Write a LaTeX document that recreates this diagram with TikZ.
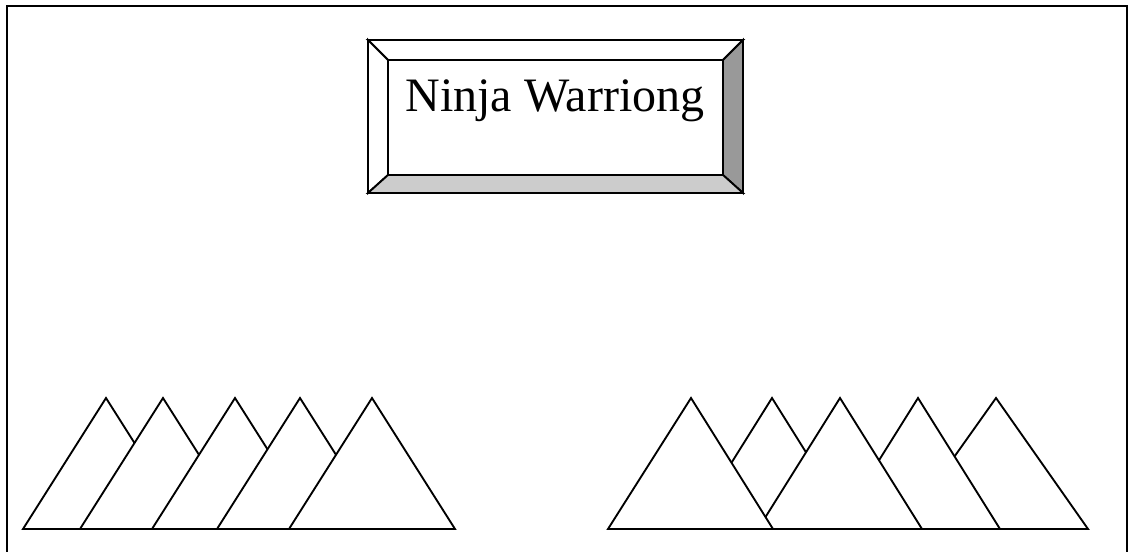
\documentclass[tikz,border=0pt]{standalone}
\usepackage{fontspec}
\setmainfont{Liberation Serif}
\usepackage{xcolor}
\definecolor{bevelside}{HTML}{999999}
\definecolor{bevelbot}{HTML}{CCCCCC}
\usetikzlibrary{positioning}
\tikzset{
  frame/.style={draw=black, line width=1.6pt},
  mtn/.style={draw=black, fill=white, line width=1.4pt, line join=miter},
  bevel/.style={draw=black, line width=1.4pt, line join=miter},
  title/.style={font=\fontsize{36}{40}\selectfont, inner sep=0pt, anchor=base},
}

\begin{document}
\begin{tikzpicture}[x=0.75pt, y=-0.75pt]
  \useasboundingbox (0,0) rectangle (1129,552);
  % outer frame, bottom runs off the page
  \draw[frame] (7,552) -- (7,6) -- (1127,6) -- (1127,552);

  % title button
  \coordinate (o1) at (368,40);  \coordinate (o2) at (743,40);
  \coordinate (o3) at (743,193); \coordinate (o4) at (368,193);
  \coordinate (i1) at (388,60);  \coordinate (i2) at (723,60);
  \coordinate (i3) at (723,175); \coordinate (i4) at (388,175);
  \filldraw[bevel, fill=white] (o1) -- (o2) -- (i2) -- (i1) -- cycle;
  \filldraw[bevel, fill=white] (o1) -- (i1) -- (i4) -- (o4) -- cycle;
  \filldraw[bevel, fill=bevelside] (o2) -- (o3) -- (i3) -- (i2) -- cycle;
  \filldraw[bevel, fill=bevelbot] (o4) -- (i4) -- (i3) -- (o3) -- cycle;
  \draw[bevel] (i1) rectangle (i3);
  \node[title] (name) at (555,112) {Ninja Warriong};

  % left range, drawn back to front
  \foreach \ax in {106,163,235,300,372}
    \draw[mtn] (\ax-83,529) -- (\ax,398) -- (\ax+83,529) -- cycle;

  % right range, drawn back to front
  \draw[mtn] (903,529) -- (996,398) -- (1088,529) -- cycle;
  \draw[mtn] (836,529) -- (918,398) -- (1000,529) -- cycle;
  \draw[mtn] (690,529) -- (772,398) -- (854,529) -- cycle;
  \draw[mtn] (758,529) -- (840,398) -- (922,529) -- cycle;
  \draw[mtn] (608,529) -- (691,398) -- (773,529) -- cycle;
\end{tikzpicture}
\end{document}
